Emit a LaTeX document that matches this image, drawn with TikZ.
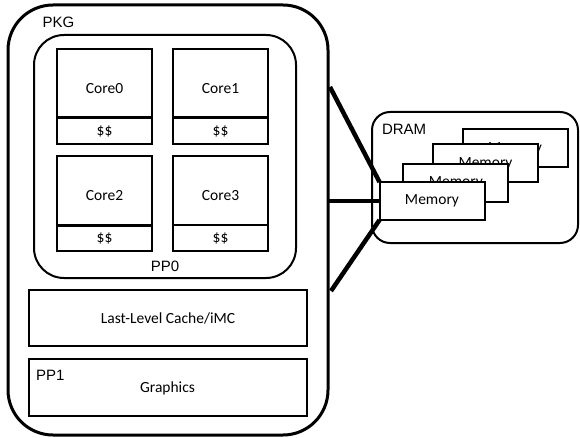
\documentclass[tikz,border=0pt]{standalone}
\usepackage{fontspec}
\setmainfont{Carlito}
\newfontfamily\arialfont{Liberation Sans}
\begin{document}
\begin{tikzpicture}[x=1pt,y=-1pt,
  every node/.style={inner sep=0pt, outer sep=0pt},
  boxtext/.style={font=\fontsize{15.5}{18}\selectfont},
  tagtext/.style={font=\arialfont\fontsize{15}{18}\selectfont},
  pkgbox/.style={draw, line width=3pt, rounded corners=45pt, minimum width=320pt, minimum height=430pt},
  ppbox/.style={draw, line width=2pt, rounded corners=30pt, minimum width=262pt, minimum height=243pt},
  corebox/.style={draw, line width=2pt, fill=white, minimum width=95pt, minimum height=69pt},
  cachebox/.style={draw, line width=2pt, fill=white, minimum width=95pt, minimum height=26pt, boxtext},
  divider/.style={line width=3pt},
  widebox/.style={draw, line width=2pt, minimum width=278pt},
  drambox/.style={draw, line width=2pt, rounded corners=18pt, minimum width=206pt, minimum height=131pt},
  membox/.style={draw, line width=2pt, fill=white, minimum width=105pt, minimum height=38pt, boxtext},
  link/.style={line width=4.5pt}]
\useasboundingbox (0,0) rectangle (580,438);

% package outline and power plane 0
\node[pkgbox] (pkg) at (168,220) {};
\node[tagtext, anchor=base west] (pkglabel) at (42.5,28) {PKG};
\node[ppbox] (pp0) at (165,156.5) {};
\node[tagtext, anchor=base] (pp0label) at (165,271.5) {PP0};

% the four cores with their private caches
\foreach \i/\cx/\cy in {0/104.5/83.5, 1/220.5/83.5, 2/104.5/190.5, 3/220.5/190.5} {
  \node[corebox] (core\i) at (\cx,\cy) {};
  \node[boxtext] (core\i text) at ([yshift=-5.5pt]core\i.center) {Core\i};
  \node[cachebox, anchor=north] (cache\i) at (core\i.south) {\$\$};
}
\foreach \i in {0,1,2} \draw[divider] (core\i.south west) -- (core\i.south east);
\draw[line width=2.2pt] (core3.south west) -- (core3.south east);

% shared cache and graphics
\node[widebox, minimum height=56pt, boxtext] (llc) at (168,318) {Last-Level Cache/iMC};
\node[widebox, minimum height=57pt] (gfx) at (168,387.5) {};
\node[boxtext] (gfxtext) at (167.5,388.5) {Graphics};
\node[tagtext, anchor=base west] (pp1label) at (36,380) {PP1};

% DRAM with stacked memory modules, back to front
\node[drambox] (dram) at (475,177.5) {};
\node[tagtext, anchor=base west] (dramlabel) at (382,135) {DRAM};
\node[membox] (mem4) at (515,148.3) {Memory};
\node[membox] (mem3) at (485.5,163.3) {Memory};
\node[membox] (mem2) at (455.8,183) {Memory};
\node[membox] (mem1) at (432,201) {Memory};

% memory channels from the package to the front module
\coordinate (ch1) at (330,87);
\coordinate (ch2) at (328,201);
\coordinate (ch3) at (331,291);
\draw[link] (ch1) -- (mem1.north west);
\draw[link] (ch2) -- (mem1.west);
\draw[link] (ch3) -- (mem1.south west);
\end{tikzpicture}
\end{document}
